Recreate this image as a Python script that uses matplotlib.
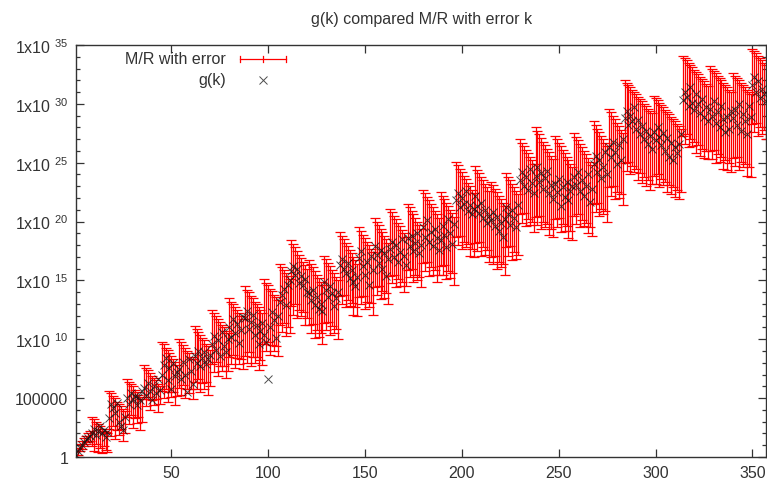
import numpy as np
import matplotlib
matplotlib.use("Agg")
import matplotlib.pyplot as plt
from matplotlib.ticker import FixedLocator, FuncFormatter, NullLocator

plt.rcParams['font.family'] = ['Liberation Sans', 'DejaVu Sans']
plt.rcParams['mathtext.fontset'] = 'custom'
plt.rcParams['mathtext.rm'] = 'Liberation Sans'
plt.rcParams['mathtext.it'] = 'Liberation Sans:italic'

# log10 of upper end of the M/R error bar, one value per k (k = 1..357)
hi_log = [
    0.5, 0.8, 1.1, 1.4, 1.6, 1.8, 2.0, 2.2,
    3.4, 3.2, 3.0, 2.8, 2.6, 2.4, 2.2, 2.1, 2.0,
    5.6, 5.4, 5.2, 5.0, 4.7, 4.5, 4.3, 4.1, 3.9,
    6.6, 6.4, 6.2, 6.0, 5.7, 5.5, 5.3, 5.1, 4.9,
    7.8, 7.6, 7.4, 7.1, 6.9, 6.7, 6.5, 6.2, 6.0,
    9.8, 9.6, 9.3, 9.1, 8.8, 8.6, 8.3, 8.1, 7.8,
    10.0, 9.8, 9.5, 9.3, 9.0, 8.8, 8.5, 8.3,
    11.1, 10.9, 10.6, 10.4, 10.1, 9.9, 9.6, 9.4, 9.1,
    12.5, 12.2, 12.0, 11.7, 11.5, 11.2, 11.0, 10.7, 10.5,
    13.5, 13.2, 13.0, 12.7, 12.5, 12.2, 12.0, 11.7,
    14.5, 14.2, 14.0, 13.7, 13.5, 13.2, 13.0, 12.7, 12.5, 12.2,
    15.1, 14.8, 14.6, 14.3, 14.1, 13.8, 13.6, 13.3,
    16.4, 16.1, 15.9, 15.6, 15.4, 15.1,
    18.4, 18.1, 17.8, 17.5, 17.2, 16.9, 16.6, 16.3, 16.0,
    16.7, 16.4, 16.1, 15.8, 15.5, 15.2, 14.9, 14.6,
    17.1, 16.8, 16.5, 16.2, 15.9, 15.6, 15.3, 15.0,
    19.1, 18.8, 18.5, 18.2, 17.9, 17.6, 17.3, 17.0, 16.7, 16.4,
    19.5, 19.2, 18.9, 18.6, 18.3, 18.0, 17.7, 17.4,
    20.3, 20.0, 19.7, 19.4, 19.1, 18.8, 18.5, 18.2,
    21.1, 20.8, 20.5, 20.2, 19.9, 19.6, 19.3, 19.0, 18.7,
    21.5, 21.2, 20.9, 20.6, 20.3, 20.0, 19.7, 19.4,
    22.7, 22.4, 22.1, 21.8, 21.5, 21.2, 20.9, 20.6, 20.3,
    22.5, 22.2, 21.9, 21.6, 21.3, 21.0, 20.7, 20.4,
    25.1, 24.8, 24.5, 24.2, 23.9, 23.6, 23.3, 23.0, 22.7, 22.4,
    24.7, 24.4, 24.1, 23.8, 23.5, 23.2, 22.9, 22.6,
    23.4, 23.1, 22.8, 22.5, 22.2, 21.9, 21.6, 21.3,
    24.1, 23.8, 23.5, 23.2, 22.9, 22.6, 22.3,
    27.0, 26.7, 26.4, 26.1, 25.8, 25.5, 25.2, 24.9,
    28.0, 27.7, 27.4, 27.1, 26.8, 26.5, 26.2, 25.9, 25.6, 25.3,
    27.3, 27.0, 26.7, 26.4, 26.1, 25.8, 25.5, 25.2, 24.9, 24.6,
    27.5, 27.2, 26.9, 26.6, 26.3, 26.0, 25.7, 25.4, 25.1, 24.8,
    28.5, 28.2, 27.9, 27.6, 27.3, 27.0, 26.7, 26.4,
    29.6, 29.3, 29.0, 28.7, 28.4, 28.1, 27.8, 27.5,
    32.0, 31.8, 31.6, 31.4, 31.2, 31.0, 30.8, 30.6, 30.4, 30.2, 30.0, 29.8, 29.6, 29.4, 29.2,
    30.7, 30.5, 30.3, 30.1, 29.9, 29.7, 29.5, 29.3, 29.1, 28.9, 28.7, 28.5, 28.3, 28.1, 27.9,
    34.1, 33.9, 33.7, 33.5, 33.3, 33.1, 32.9, 32.7, 32.5, 32.3, 32.1, 31.9, 31.7, 31.5,
    33.2, 33.0, 32.8, 32.6, 32.4, 32.2, 32.0, 31.8, 31.6, 31.4, 31.2, 31.0,
    32.6, 32.4, 32.2, 32.0, 31.8, 31.6, 31.4, 31.2, 31.0, 30.8,
    34.7, 34.5, 34.3, 34.1, 33.9, 33.7, 33.5, 33.3,
]

# log10 of lower end of the M/R error bar
lo_log = [
    0.0, 0.2, 0.5, 0.7, 0.9, 1.1, 1.3, 1.4,
    0.9, 0.5, 1.1, 0.4, 0.8, 0.3, 0.9, 0.6, 0.4,
    2.4, 1.8, 2.6, 1.5, 2.3, 1.9, 2.4, 1.4, 2.0,
    3.4, 2.8, 3.6, 2.5, 3.3, 2.9, 3.4, 2.3, 3.0,
    4.9, 4.3, 5.1, 4.0, 4.8, 4.4, 4.9, 3.8, 4.5,
    5.6, 5.0, 5.8, 4.7, 5.5, 5.1, 5.5, 4.4, 5.2,
    5.9, 5.3, 6.1, 5.0, 5.8, 5.4, 5.8, 4.9,
    6.4, 5.8, 6.6, 5.5, 6.3, 5.8, 6.4, 5.3, 6.0,
    7.9, 7.2, 8.1, 6.9, 7.7, 7.3, 7.7, 6.7, 7.3,
    8.5, 7.9, 8.7, 7.6, 8.4, 7.9, 8.3, 7.5,
    8.6, 8.0, 8.9, 7.7, 8.5, 8.0, 8.5, 7.4, 8.2, 7.8,
    9.6, 9.0, 9.8, 8.7, 9.5, 9.0, 9.4, 8.6,
    11.2, 10.6, 11.4, 10.3, 11.0, 10.5,
    12.8, 12.1, 13.0, 11.8, 12.5, 12.0, 12.3, 11.2, 11.8,
    11.2, 10.5, 11.3, 10.1, 10.8, 10.2, 10.5, 9.6,
    11.4, 10.8, 11.5, 10.4, 11.1, 10.5, 10.9, 10.0,
    13.7, 13.0, 13.8, 12.7, 13.3, 12.8, 13.1, 12.1, 12.7, 12.0,
    13.6, 13.0, 13.7, 12.6, 13.2, 12.7, 13.1, 12.1,
    14.4, 13.8, 14.5, 13.4, 14.1, 13.5, 13.9, 13.0,
    15.4, 14.8, 15.5, 14.4, 15.1, 14.5, 14.9, 14.0, 14.5,
    15.9, 15.3, 16.0, 14.9, 15.5, 15.0, 15.3, 14.4,
    16.5, 15.8, 16.6, 15.4, 16.1, 15.5, 15.9, 14.9, 15.5,
    16.2, 15.5, 16.3, 15.1, 15.8, 15.2, 15.6, 14.6,
    18.7, 18.0, 18.8, 17.7, 18.3, 17.8, 18.1, 17.1, 17.7, 17.0,
    18.2, 17.5, 18.3, 17.1, 17.8, 17.2, 17.6, 16.6,
    17.0, 16.4, 17.1, 16.0, 16.6, 16.1, 16.4, 15.5,
    17.8, 17.1, 17.9, 16.7, 17.4, 16.8, 17.2,
    20.6, 19.9, 20.7, 19.6, 20.2, 19.7, 20.0, 19.1,
    20.4, 19.7, 20.5, 19.4, 20.0, 19.5, 19.8, 18.9, 19.4, 18.7,
    20.2, 19.5, 20.3, 19.1, 19.8, 19.2, 19.6, 18.6, 19.2, 18.4,
    20.5, 19.8, 20.6, 19.5, 20.1, 19.6, 19.9, 19.0, 19.5, 18.8,
    21.5, 20.8, 21.6, 20.5, 21.1, 20.6, 20.9, 20.0,
    22.9, 22.2, 23.0, 21.9, 22.5, 22.0, 22.3, 21.4,
    25.0, 24.3, 25.1, 24.0, 24.7, 24.2, 24.5, 23.5, 24.1, 23.3, 23.8, 23.0, 23.5, 22.7, 23.2,
    23.9, 23.2, 24.0, 22.9, 23.6, 23.1, 23.4, 22.5, 23.1, 22.3, 22.9, 22.1, 22.7, 21.9, 22.5,
    27.3, 26.6, 27.4, 26.3, 27.0, 26.4, 26.8, 25.8, 26.5, 25.6, 26.2, 25.4, 26.0, 25.3,
    26.0, 25.3, 26.1, 25.0, 25.7, 25.1, 25.5, 24.5, 25.2, 24.4, 25.0, 24.2,
    25.4, 24.7, 25.5, 24.4, 25.1, 24.6, 24.9, 23.9, 24.6, 23.8,
    28.3, 27.6, 28.4, 27.3, 28.0, 27.4, 27.8, 27.0,
]

# log10 of g(k)
g_log = [
    0.2, 0.5, 0.8, 1.0, 1.3, 1.5, 1.6, 1.8,
    2.0, 2.4, 1.9, 2.2, 2.6, 2.0, 2.3, 1.7, 2.1,
    3.3, 4.5, 4.2, 3.7, 4.6, 3.0, 2.6, 2.3, 3.4,
    5.0, 4.5, 5.4, 4.9, 5.2, 4.4, 5.1, 4.8, 5.6,
    5.9, 5.2, 6.3, 5.6, 4.8, 6.0, 5.4, 6.6, 5.7,
    7.0, 7.8, 8.4, 6.5, 7.6, 5.8, 8.0, 6.9, 7.2,
    7.5, 6.6, 8.1, 7.0, 5.5, 8.3, 7.3, 6.2,
    8.6, 8.0, 9.0, 7.7, 8.4, 8.9, 7.9, 8.3, 8.7,
    9.6, 10.3, 9.1, 9.9, 8.6, 10.6, 9.4, 8.9, 10.0,
    11.0, 10.2, 11.7, 10.5, 11.3, 9.7, 10.8, 11.9,
    11.8, 12.4, 10.9, 11.5, 12.1, 10.4, 11.2, 9.6, 10.7, 11.4,
    10.4, 9.8, 6.6, 11.0, 12.3, 11.6, 10.1, 12.0,
    13.2, 13.8, 14.3, 12.9, 14.6, 15.0,
    15.8, 16.2, 15.5, 16.0, 14.8, 15.4, 14.6, 15.1, 14.0,
    13.9, 13.3, 14.2, 12.9, 13.6, 12.6, 13.0, 12.4,
    14.9, 14.2, 13.6, 14.5, 13.9, 12.8, 13.5, 14.0,
    16.3, 16.8, 16.0, 15.6, 16.5, 15.2, 15.9, 14.9, 14.5, 15.3,
    16.9, 17.5, 16.2, 15.5, 16.6, 14.6, 17.1, 15.9,
    17.9, 17.2, 16.5, 17.6, 16.0, 17.3, 15.4, 16.8,
    17.7, 18.3, 17.0, 18.0, 16.6, 17.4, 18.5, 17.1, 16.3,
    18.6, 17.9, 18.8, 17.5, 18.2, 19.0, 17.3, 18.0,
    19.5, 18.7, 20.1, 18.3, 19.1, 17.9, 19.4, 18.6, 17.6,
    18.4, 19.6, 18.9, 17.8, 20.2, 19.0, 18.1, 19.8,
    21.8, 22.4, 21.2, 22.0, 21.5, 22.6, 20.9, 21.4, 20.6, 21.1,
    22.2, 21.3, 20.7, 21.6, 20.3, 21.0, 19.9, 20.5,
    20.1, 20.8, 19.6, 20.4, 19.2, 19.9, 18.7, 20.2,
    21.2, 20.6, 19.7, 21.0, 20.3, 19.5, 21.4,
    23.5, 24.2, 23.0, 23.8, 22.7, 24.5, 23.3, 22.4,
    23.9, 24.6, 23.4, 24.1, 22.8, 23.7, 24.3, 22.4, 23.1, 21.9,
    23.2, 22.5, 23.6, 21.3, 22.9, 22.1, 23.4, 21.8, 22.6, 23.0,
    23.8, 23.1, 24.2, 22.6, 23.5, 22.2, 23.0, 24.0, 21.7, 22.8,
    24.9, 25.6, 24.2, 25.2, 23.7, 24.6, 25.9, 24.0,
    26.3, 25.5, 26.8, 25.9, 24.9, 26.5, 25.2, 27.0,
    28.8, 29.4, 28.2, 29.0, 28.5, 29.7, 27.9, 28.6, 27.4, 28.1, 27.0, 27.7, 26.6, 27.3, 26.2,
    27.6, 26.9, 28.0, 27.2, 26.5, 27.5, 26.0, 27.1, 25.5, 26.7, 25.2, 26.3, 25.8, 26.6, 27.4,
    30.3, 31.0, 30.6, 29.8, 31.4, 30.1, 29.5, 30.8, 30.0, 29.2, 30.4, 28.9, 29.7, 28.5,
    29.6, 29.0, 30.2, 28.4, 29.3, 28.0, 29.8, 28.7, 27.6, 28.9, 27.9, 29.4,
    28.8, 29.5, 28.2, 30.0, 27.7, 29.1, 28.5, 27.4, 29.8, 28.9,
    31.6, 32.3, 31.0, 31.9, 30.5, 31.3, 30.8, 30.2,
]

assert len(hi_log) == len(lo_log) == len(g_log)

k = np.arange(1, len(g_log) + 1)
hi = 10.0 ** np.array(hi_log)
lo = 10.0 ** np.array(lo_log)
mr = np.sqrt(hi * lo)
g = 10.0 ** np.array(g_log)

fig = plt.figure(figsize=(7.67, 4.85), dpi=100)
ax = fig.add_axes([0.0997, 0.0557, 0.899, 0.8495])

ax.errorbar(k, mr, yerr=[mr - lo, hi - mr], fmt='none', ecolor='#ff0000',
            elinewidth=0.9, capsize=3.5, capthick=0.9, zorder=2)
ax.plot(k, g, linestyle='none', marker='x', color='#111111', markersize=5.5,
        markeredgewidth=0.7, alpha=0.75, zorder=3)

ax.set_yscale('log')
ax.set_xlim(1, 357)
ax.set_ylim(1, 1e35)

def ylab(v, pos):
    e = int(round(np.log10(v)))
    if e == 0:
        return '1'
    if e == 5:
        return '100000'
    return '1x10 $^{%d}$' % e

ax.yaxis.set_major_locator(FixedLocator([10.0 ** e for e in range(0, 36, 5)]))
ax.yaxis.set_minor_locator(FixedLocator([10.0 ** e for e in range(0, 36) if e % 5]))
ax.yaxis.set_major_formatter(FuncFormatter(ylab))
ax.yaxis.set_minor_formatter(FuncFormatter(lambda v, p: ''))
ax.xaxis.set_major_locator(FixedLocator([50, 100, 150, 200, 250, 300, 350]))
ax.xaxis.set_minor_locator(NullLocator())

ax.tick_params(which='both', direction='in', top=True, right=True,
               colors='#333333', labelcolor='#333333', labelsize=11.5)
ax.tick_params(which='major', length=6, width=0.9, pad=6)
ax.tick_params(which='minor', length=3, width=0.9)
for s in ax.spines.values():
    s.set_color('#333333')
    s.set_linewidth(1.0)

ax.set_title('g(k) compared M/R with error k', fontsize=11.5, color='#333333', pad=15.5)

# key, top left like gnuplot
ax.text(0.2168, 0.966, 'M/R with error', transform=ax.transAxes, ha='right',
        va='center', fontsize=11.5, color='#333333')
ax.text(0.2168, 0.915, 'g(k)', transform=ax.transAxes, ha='right',
        va='center', fontsize=11.5, color='#333333')
ax.plot([0.2371, 0.3038], [0.966, 0.966], color='#ff0000', lw=0.9,
        transform=ax.transAxes, clip_on=False)
for xx in (0.2371, 0.2705, 0.3038):
    ax.plot([xx, xx], [0.966 - 0.007, 0.966 + 0.007], color='#ff0000', lw=0.9,
            transform=ax.transAxes, clip_on=False)
ax.plot([0.2705], [0.915], marker='x', color='#111111', markersize=5.5,
        markeredgewidth=0.7, alpha=0.75, transform=ax.transAxes, clip_on=False)

fig.savefig('out.png', dpi=100)
